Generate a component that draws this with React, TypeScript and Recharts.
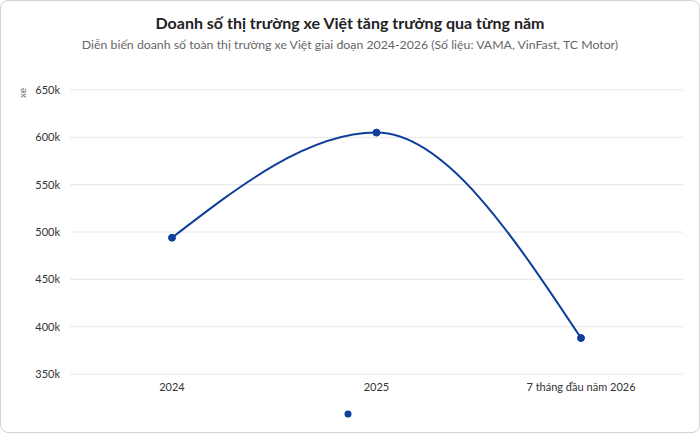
import { LineChart, Line, XAxis, YAxis, CartesianGrid, Legend } from "recharts";

const categories = ["2024", "2025", "7 tháng đầu năm 2026"];
const sales = [494000, 605000, 388000];
const yTicks = [350000, 400000, 450000, 500000, 550000, 600000, 650000];

const data = categories.map((name, i) => ({ name, value: sales[i] }));

const FONT = "Lato, 'Noto Sans', sans-serif";
const BLUE = "#0f3f9c";

function LegendMarker() {
  return (
    <svg width={700} height={14} style={{ display: "block" }}>
      <circle cx={348} cy={10} r={3.5} fill={BLUE} />
    </svg>
  );
}

export default function App() {
  return (
    <div
      style={{
        position: "relative",
        width: 700,
        height: 433,
        boxSizing: "border-box",
        border: "1px solid #d4d4d4",
        borderRadius: 8,
        background: "#fff",
        fontFamily: FONT,
        overflow: "hidden",
      }}
    >
      <style>{`body{margin:0}`}</style>
      <div
        style={{
          position: "absolute",
          top: 12,
          left: 0,
          width: "100%",
          textAlign: "center",
          fontSize: 16,
          fontWeight: 700,
          color: "#222",
        }}
      >
        Doanh số thị trường xe Việt tăng trưởng qua từng năm
      </div>
      <div
        style={{
          position: "absolute",
          top: 36,
          left: 0,
          width: "100%",
          textAlign: "center",
          fontSize: 12.3,
          color: "#666",
        }}
      >
        Diễn biến doanh số toàn thị trường xe Việt giai đoạn 2024-2026 (Số liệu: VAMA, VinFast, TC Motor)
      </div>
      <div style={{ position: "absolute", top: -1, left: -1 }}>
        <LineChart width={700} height={433} data={data} margin={{ top: 90, right: 17, left: 0, bottom: 5 }}>
          <CartesianGrid stroke="#e6e6e6" vertical={false} />
          <XAxis
            dataKey="name"
            axisLine={false}
            tickLine={false}
            height={30}
            padding={{ left: 102, right: 102 }}
            tick={{ fontSize: 11, fill: "#333", fontFamily: FONT }}
            tickMargin={3}
          />
          <YAxis
            domain={[350000, 650000]}
            ticks={yTicks}
            tickFormatter={(v) => `${v / 1000}k`}
            axisLine={false}
            tickLine={false}
            width={70}
            tick={{ fontSize: 11, fill: "#333", fontFamily: FONT }}
            tickMargin={4}
            label={{
              content: () => (
                <text
                  x={22}
                  y={93}
                  transform="rotate(-90 22 93)"
                  textAnchor="middle"
                  dominantBaseline="central"
                  fontSize={10}
                  fill="#666"
                  fontFamily={FONT}
                >
                  xe
                </text>
              ),
            }}
          />
          <Legend
            verticalAlign="bottom"
            height={24}
            content={() => <LegendMarker />}
            wrapperStyle={{ left: 0, width: 700 }}
          />
          <Line
            type="monotone"
            dataKey="value"
            stroke={BLUE}
            strokeWidth={2}
            dot={{ r: 3.5, fill: BLUE, stroke: BLUE, strokeWidth: 1 }}
            activeDot={false}
            isAnimationActive={false}
          />
        </LineChart>
      </div>
    </div>
  );
}
